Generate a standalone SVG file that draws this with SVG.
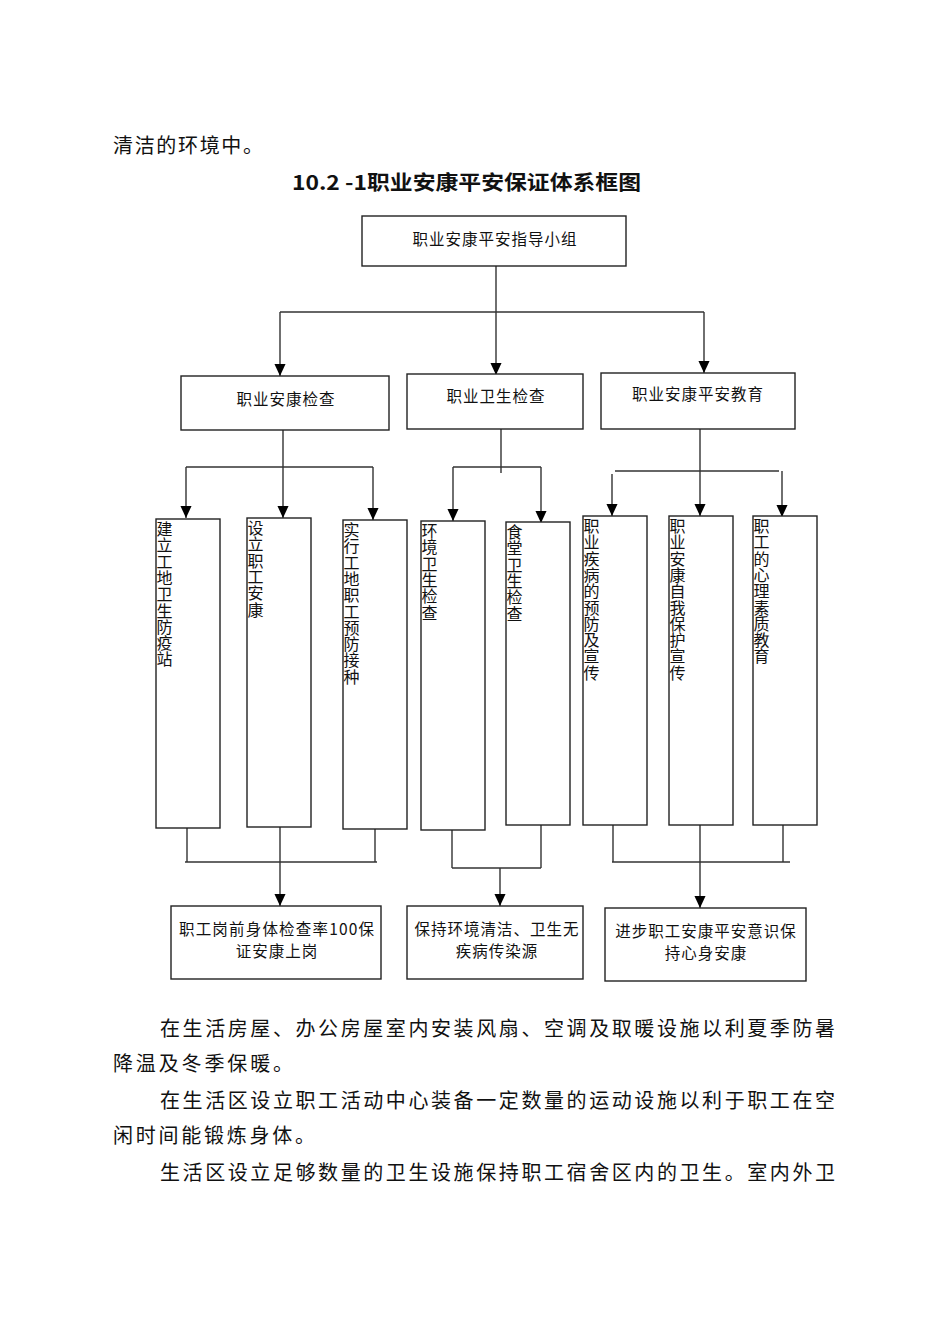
<svg xmlns="http://www.w3.org/2000/svg" width="950" height="1344" viewBox="0 0 950 1344">
<style>
.bg{fill:#fff}
.box{fill:#fff;stroke:#222;stroke-width:1.4}
.ln{fill:none;stroke:#333;stroke-width:1.4}
.t{font-family:"Noto Sans CJK SC","Liberation Serif",serif;fill:#111}
.body{font-size:20px}
.lbl{font-size:15.5px;text-anchor:middle;letter-spacing:1px}
.v{font-size:16px;writing-mode:vertical-rl;letter-spacing:0.3px}
.title{font-size:20px;font-weight:bold}
</style>
<defs>
<marker id="ah" markerUnits="userSpaceOnUse" markerWidth="12" markerHeight="13" refX="13" refY="6" orient="auto" viewBox="0 0 13 12">
<path d="M0,0 L13,6 L0,12 Z" fill="#000"/>
</marker>
</defs>
<rect class="bg" x="0" y="0" width="950" height="1344"/>

<text class="t body" x="113" y="153" textLength="150" lengthAdjust="spacing">清洁的环境中。</text>
<text class="t title" x="292" y="190" textLength="349" lengthAdjust="spacingAndGlyphs">10.2 -1职业安康平安保证体系框图</text>

<g id="connectors">
<path class="ln" d="M496,266 V375" marker-end="url(#ah)"/>
<path class="ln" d="M280,312 H704"/>
<path class="ln" d="M280,312 V376" marker-end="url(#ah)"/>
<path class="ln" d="M704,312 V373" marker-end="url(#ah)"/>

<path class="ln" d="M283,430 V518" marker-end="url(#ah)"/>
<path class="ln" d="M186,467 H373"/>
<path class="ln" d="M186,467 V518" marker-end="url(#ah)"/>
<path class="ln" d="M373,467 V520" marker-end="url(#ah)"/>

<path class="ln" d="M501,429 V473"/>
<path class="ln" d="M453,467 H541"/>
<path class="ln" d="M453,467 V521" marker-end="url(#ah)"/>
<path class="ln" d="M541,467 V523" marker-end="url(#ah)"/>

<path class="ln" d="M700,429 V516" marker-end="url(#ah)"/>
<path class="ln" d="M615,471 H779"/>
<path class="ln" d="M612,474 V516" marker-end="url(#ah)"/>
<path class="ln" d="M782,471 V517" marker-end="url(#ah)"/>

<path class="ln" d="M187,828 V862"/>
<path class="ln" d="M375,829 V862"/>
<path class="ln" d="M185,862 H377"/>
<path class="ln" d="M280,827 V906" marker-end="url(#ah)"/>

<path class="ln" d="M452,830 V868"/>
<path class="ln" d="M541,825 V868"/>
<path class="ln" d="M452,868 H541"/>
<path class="ln" d="M500,868 V906" marker-end="url(#ah)"/>

<path class="ln" d="M613,825 V862"/>
<path class="ln" d="M783,825 V862"/>
<path class="ln" d="M612,862 H790"/>
<path class="ln" d="M700,825 V908" marker-end="url(#ah)"/>
</g>

<g id="n-top"><rect class="box" x="362" y="216" width="264" height="50"/><text class="t lbl" x="495" y="245">职业安康平安指导小组</text></g>
<g id="n-a"><rect class="box" x="181" y="376" width="208" height="54"/><text class="t lbl" x="286" y="405">职业安康检查</text></g>
<g id="n-b"><rect class="box" x="407" y="374" width="176" height="55"/><text class="t lbl" x="496" y="402">职业卫生检查</text></g>
<g id="n-c"><rect class="box" x="601" y="373" width="194" height="56"/><text class="t lbl" x="698" y="400">职业安康平安教育</text></g>

<g id="n1"><rect class="box" x="156" y="519" width="64" height="309"/><text class="t v" x="164.5" y="521">建立工地卫生防疫站</text></g>
<g id="n2"><rect class="box" x="247" y="518" width="64" height="309"/><text class="t v" x="255.5" y="520">设立职工安康</text></g>
<g id="n3"><rect class="box" x="343" y="520" width="64" height="309"/><text class="t v" x="351.5" y="522">实行工地职工预防接种</text></g>
<g id="n4"><rect class="box" x="421" y="521" width="64" height="309"/><text class="t v" x="429.5" y="523">环境卫生检查</text></g>
<g id="n5"><rect class="box" x="506" y="522" width="64" height="303"/><text class="t v" x="514.5" y="524">食堂卫生检查</text></g>
<g id="n6"><rect class="box" x="583" y="516" width="64" height="309"/><text class="t v" x="591.5" y="518">职业疾病的预防及宣传</text></g>
<g id="n7"><rect class="box" x="669" y="516" width="64" height="309"/><text class="t v" x="677.5" y="518">职业安康自我保护宣传</text></g>
<g id="n8"><rect class="box" x="753" y="516" width="64" height="309"/><text class="t v" x="761.5" y="518">职工的心理素质教育</text></g>

<g id="r1"><rect class="box" x="171" y="906" width="210" height="73"/>
<text class="t lbl" x="277" y="935" textLength="196" lengthAdjust="spacing">职工岗前身体检查率100保</text><text class="t lbl" x="277" y="957">证安康上岗</text></g>
<g id="r2"><rect class="box" x="407" y="906" width="176" height="73"/>
<text class="t lbl" x="497" y="935">保持环境清洁、卫生无</text><text class="t lbl" x="497" y="957">疾病传染源</text></g>
<g id="r3"><rect class="box" x="605" y="908" width="201" height="73"/>
<text class="t lbl" x="706" y="937">进步职工安康平安意识保</text><text class="t lbl" x="706" y="959">持心身安康</text></g>

<text class="t body" x="160" y="1036" textLength="675" lengthAdjust="spacing">在生活房屋、办公房屋室内安装风扇、空调及取暖设施以利夏季防暑</text>
<text class="t body" x="113" y="1071" textLength="180" lengthAdjust="spacing">降温及冬季保暖。</text>
<text class="t body" x="160" y="1108" textLength="675" lengthAdjust="spacing">在生活区设立职工活动中心装备一定数量的运动设施以利于职工在空</text>
<text class="t body" x="113" y="1143" textLength="202" lengthAdjust="spacing">闲时间能锻炼身体。</text>
<text class="t body" x="160" y="1180" textLength="675" lengthAdjust="spacing">生活区设立足够数量的卫生设施保持职工宿舍区内的卫生。室内外卫</text>
</svg>
